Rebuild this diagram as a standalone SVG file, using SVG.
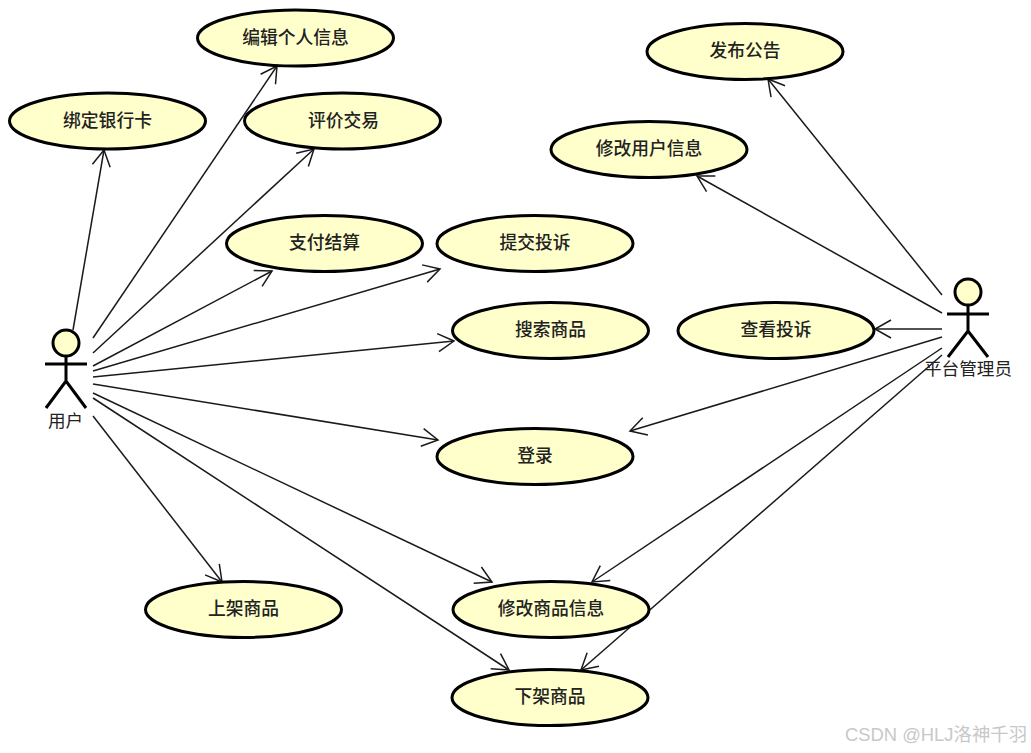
<svg xmlns="http://www.w3.org/2000/svg" width="1031" height="753" viewBox="0 0 1031 753">
<style>
text{font-family:"Noto Sans CJK SC","Noto Sans CJK JP",sans-serif;text-anchor:middle;fill:#222}
.uc ellipse{fill:#ffffcc;stroke:#000;stroke-width:3}
.uc text{font-size:17.800px;font-weight:500}
.actor circle{fill:#ffffcc;stroke:#000;stroke-width:3}
.actor path{fill:none;stroke:#000;stroke-width:3}
.actor text{font-size:17.600px}
#connectors line{stroke:#1a1a1a;stroke-width:1.500;fill:none;marker-end:url(#open)}
</style>
<defs>
<marker id="open" markerUnits="userSpaceOnUse" markerWidth="24" markerHeight="24" refX="17" refY="10" orient="auto" viewBox="0 0 24 20">
<path d="M1 1L17 10L1 19" fill="none" stroke="#1a1a1a" stroke-width="1.500"/>
</marker>
</defs>
<rect width="1031" height="753" fill="#fff"/>
<g id="connectors">
<line x1="73" y1="330" x2="104" y2="150"/>
<line x1="93" y1="338" x2="277" y2="66"/>
<line x1="93" y1="353" x2="314" y2="149"/>
<line x1="93" y1="366" x2="272" y2="271"/>
<line x1="93" y1="371" x2="440" y2="269"/>
<line x1="93" y1="377" x2="454" y2="341"/>
<line x1="93" y1="384" x2="438" y2="440"/>
<line x1="93" y1="393" x2="492" y2="582"/>
<line x1="93" y1="398" x2="509" y2="670"/>
<line x1="93" y1="416" x2="222" y2="582"/>
<line x1="942" y1="295" x2="768" y2="79"/>
<line x1="942" y1="313" x2="697" y2="176"/>
<line x1="942" y1="329" x2="875" y2="329"/>
<line x1="942" y1="337" x2="630" y2="431"/>
<line x1="942" y1="348" x2="592" y2="582"/>
<line x1="942" y1="355" x2="581" y2="670"/>
</g>
<g id="uc1" class="uc"><ellipse cx="295.500" cy="38" rx="98" ry="28"/><text x="295.500" y="43.500">编辑个人信息</text></g>
<g id="uc2" class="uc"><ellipse cx="107.500" cy="121" rx="98" ry="28"/><text x="107.500" y="126.500">绑定银行卡</text></g>
<g id="uc3" class="uc"><ellipse cx="342.500" cy="121" rx="98" ry="28"/><text x="343.500" y="126.500">评价交易</text></g>
<g id="uc4" class="uc"><ellipse cx="324.500" cy="243.500" rx="98" ry="28"/><text x="324.500" y="248.500">支付结算</text></g>
<g id="uc5" class="uc"><ellipse cx="535" cy="243.500" rx="98" ry="28"/><text x="535" y="248.500">提交投诉</text></g>
<g id="uc6" class="uc"><ellipse cx="550.500" cy="330.500" rx="98" ry="28"/><text x="550.500" y="335.500">搜索商品</text></g>
<g id="uc7" class="uc"><ellipse cx="535" cy="456.500" rx="98" ry="28"/><text x="535" y="461.500">登录</text></g>
<g id="uc8" class="uc"><ellipse cx="243.500" cy="609.500" rx="98" ry="28"/><text x="243.500" y="614.500">上架商品</text></g>
<g id="uc9" class="uc"><ellipse cx="551" cy="609.500" rx="98" ry="28"/><text x="551" y="614.500">修改商品信息</text></g>
<g id="uc10" class="uc"><ellipse cx="550" cy="697.500" rx="98" ry="28"/><text x="550" y="702.500">下架商品</text></g>
<g id="uc11" class="uc"><ellipse cx="745" cy="51.500" rx="98" ry="28"/><text x="745" y="56.500">发布公告</text></g>
<g id="uc12" class="uc"><ellipse cx="649" cy="149.500" rx="98" ry="28"/><text x="649" y="154.500">修改用户信息</text></g>
<g id="uc13" class="uc"><ellipse cx="776" cy="330.500" rx="98" ry="28"/><text x="776" y="335.500">查看投诉</text></g>
<g id="actor1" class="actor"><circle cx="66" cy="343" r="13"/><path d="M45 364H87M66 356V381M46 408L66 381L86 408"/><text x="65.500" y="427">用户</text></g>
<g id="actor2" class="actor"><circle cx="968" cy="292" r="13"/><path d="M947 314H989M968 305V331M948 357L968 331L988 357"/><text x="968" y="375">平台管理员</text></g>
<text x="936" y="741" style="font-family:'Liberation Sans','Noto Sans CJK SC',sans-serif;font-size:18.400px;fill:#c8c8c8">CSDN @HLJ洛神千羽</text>
</svg>
